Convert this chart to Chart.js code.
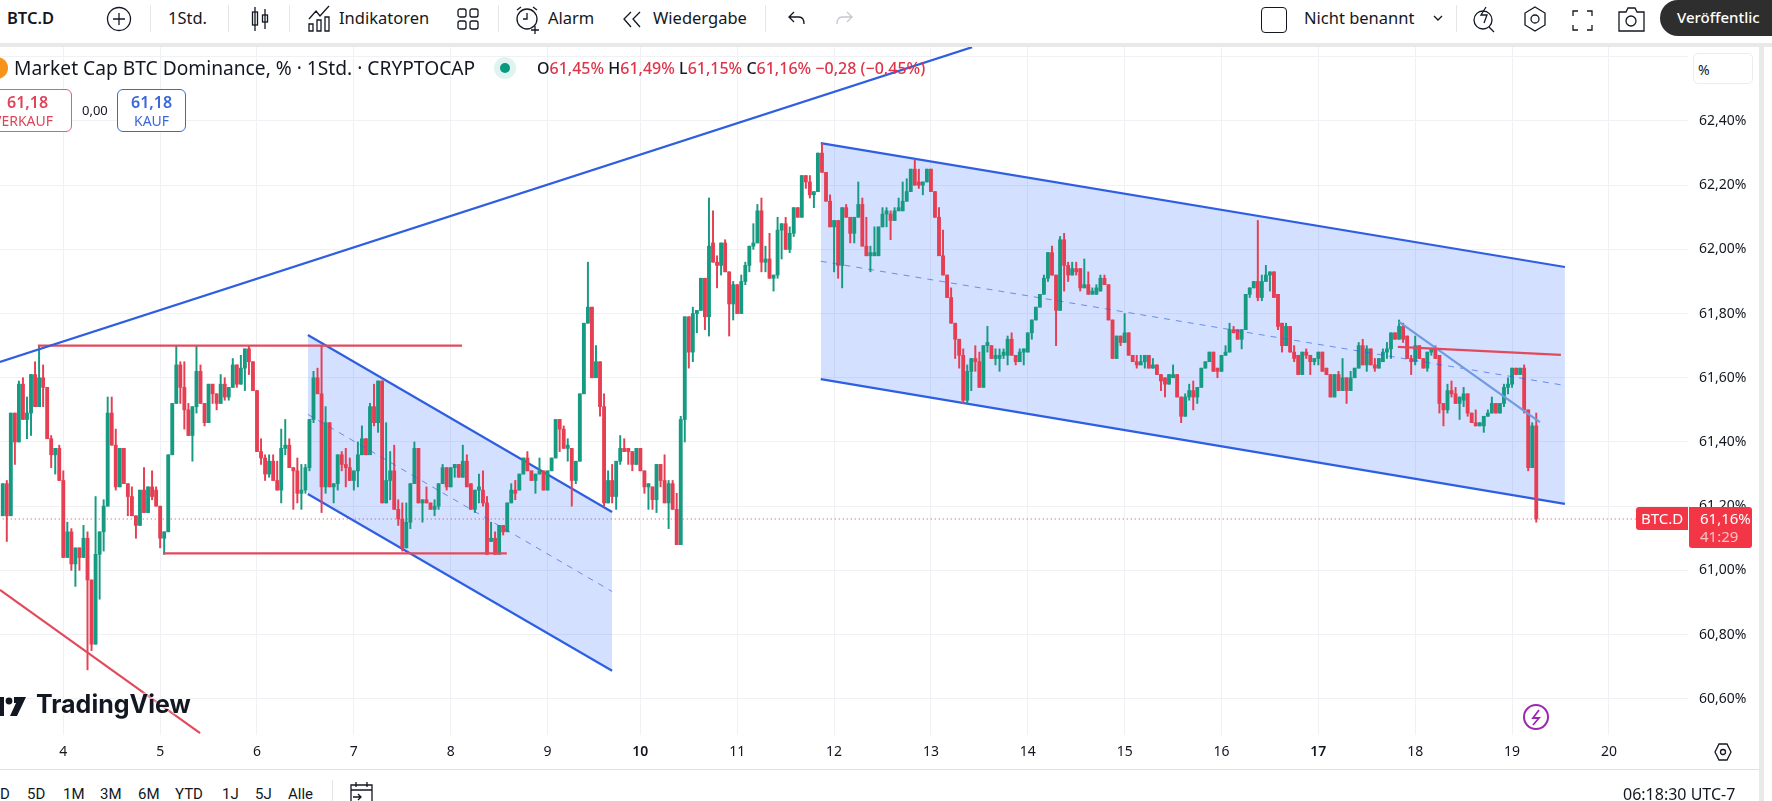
<!DOCTYPE html>
<html lang="de">
<head>
<meta charset="UTF-8">
<title>BTC.D</title>
<style>
    html, body { margin: 0; background: #fff; overflow: hidden; }
    body { font-family: "Noto Sans", sans-serif; color: #131722; width: 1772px; height: 801px; position: relative; }
    .t { position: absolute; white-space: nowrap; line-height: 1; }
    .tool { font-size: 16.5px; top: 10px; }
    .range { font-size: 15px; top: 787px; font-family: Roboto, sans-serif; }
    .sep { position: absolute; width: 1px; background: #e6e6e6; }
    svg.i { position: absolute; fill: none; stroke: #131722; stroke-width: 1.3; overflow: visible; }
    #chart { position: absolute; left: 0; top: 47px; }
    .r { color: #e0344a; }
    .box { position: absolute; box-sizing: border-box; top: 89px; height: 43px; border-radius: 6px; border: 1px solid; background: #fff; }
</style>
</head>
<body>

<!-- top toolbar -->
<span class="t tool" style="left:7px;font-weight:600">BTC.D</span>
<svg class="i" style="left:107px;top:7px" width="25" height="25"><circle cx="12" cy="12" r="11.5"/><path d="M12 6v12M6 12h12"/></svg>
<div class="sep" style="left:150px;top:5px;height:27px"></div>
<span class="t tool" style="left:168px">1Std.</span>
<div class="sep" style="left:228px;top:5px;height:27px"></div>
<svg class="i" style="left:250px;top:7px" width="20" height="24"><path d="M5 0v24M15 2v20"/><rect x="2.5" y="5" width="5" height="13"/><rect x="12.5" y="8" width="5" height="7"/></svg>
<div class="sep" style="left:289px;top:5px;height:27px"></div>
<svg class="i" style="left:308px;top:6px" width="24" height="26"><path d="M1 13L8 5l4 5 9-10M1 25v-7h4v7zM9 25V14h4v11zM17 25V11h4v14z"/></svg>
<span class="t tool" style="left:339px">Indikatoren</span>
<svg class="i" style="left:457px;top:8px" width="22" height="22"><rect x="1" y="1" width="8" height="8" rx="2"/><rect x="13" y="1" width="8" height="8" rx="2"/><rect x="1" y="13" width="8" height="8" rx="2"/><rect x="13" y="13" width="8" height="8" rx="2"/></svg>
<div class="sep" style="left:498px;top:5px;height:27px"></div>
<svg class="i" style="left:515px;top:6px" width="26" height="26"><circle cx="12" cy="13" r="10"/><path d="M12 7v6H8M2 4l4-3M22 4l-4-3M20 20v8M16 24h8"/></svg>
<span class="t tool" style="left:548px">Alarm</span>
<svg class="i" style="left:622px;top:11px" width="22" height="17"><path d="M9 1L2 8l7 8M18 1l-7 7 7 8"/></svg>
<span class="t tool" style="left:653px">Wiedergabe</span>
<div class="sep" style="left:765px;top:5px;height:27px"></div>
<svg class="i" style="left:788px;top:11px" width="18" height="15"><path d="M6 1L1 6l5 5M1 6h10c3 0 5 2 5 7"/></svg>
<svg class="i" style="left:835px;top:11px;stroke:#c4c8d0" width="18" height="15"><path d="M12 1l5 5-5 5M17 6H7c-3 0-5 2-5 7"/></svg>
<div class="t" style="left:1261px;top:7px;width:24px;height:24px;border:1.3px solid #131722;border-radius:4px"></div>
<span class="t tool" style="left:1304px">Nicht benannt</span>
<svg class="i" style="left:1433px;top:15px" width="10" height="7"><path d="M1 1l4 4 4-4"/></svg>
<div class="sep" style="left:1456px;top:5px;height:27px"></div>
<svg class="i" style="left:1473px;top:6px" width="24" height="26"><circle cx="10" cy="14" r="9"/><path d="M16 21l5 5M13 1l-5 8h6l-3 8"/></svg>
<svg class="i" style="left:1522px;top:6px" width="26" height="26"><path d="M13 1l10 6v12l-10 6-10-6V7z"/><circle cx="13" cy="13" r="4"/></svg>
<svg class="i" style="left:1572px;top:10px" width="22" height="22"><path d="M1 6V1h5M15 1h5v5M20 15v5h-5M6 20H1v-5"/></svg>
<svg class="i" style="left:1618px;top:7px" width="27" height="25"><path d="M1 5h7l2-4h7l2 4h7v19H1z"/><circle cx="13" cy="14" r="5"/></svg>
<div class="t" style="left:1660px;top:0;width:112px;height:36px;background:#2e2e2e;border-radius:18px 0 0 18px"></div>
<span class="t" style="left:1677px;top:10px;font-size:15px;color:#fff;font-weight:500">Veröffentlic</span>
<div style="position:absolute;left:0;top:43px;width:1772px;height:4px;background:#e9e9e9"></div>
<div style="position:absolute;left:1759px;top:43px;width:5px;height:758px;background:#e9e9e9"></div>

<canvas id="chart" width="1759" height="722"></canvas>

<!-- legend over the chart -->
<div style="position:absolute;left:-14px;top:57px;width:22px;height:22px;border-radius:50%;background:#f7931a"></div>
<span class="t" style="left:14px;top:58px;font-size:19.2px">Market Cap BTC Dominance, % · 1Std. · CRYPTOCAP</span>
<div style="position:absolute;left:494px;top:57px;width:22px;height:22px;border-radius:50%;background:#dff3ef"></div>
<div style="position:absolute;left:500px;top:63px;width:10px;height:10px;border-radius:50%;background:#089981"></div>
<span class="t" style="left:537px;top:60px;font-size:16px;font-weight:500">O<span class="r">61,45%</span> H<span class="r">61,49%</span> L<span class="r">61,15%</span> C<span class="r">61,16%</span> <span class="r">−0,28 (−0,45%)</span></span>
<div class="box" style="left:-10px;width:82px;border-color:#e0606f"></div>
<span class="t r" style="left:7px;top:94px;font-size:16px;font-weight:600;color:#e04458">61,18</span>
<span class="t" style="left:-7px;top:114px;font-size:14px;color:#e04458">VERKAUF</span>
<span class="t" style="left:82px;top:104px;font-size:13px">0,00</span>
<div class="box" style="left:117px;width:69px;border-color:#3b68d8"></div>
<span class="t" style="left:131px;top:94px;font-size:16px;font-weight:600;color:#3b68d8">61,18</span>
<span class="t" style="left:134px;top:114px;font-size:14px;color:#3b68d8">KAUF</span>

<!-- price scale overlays -->
<div style="position:absolute;box-sizing:border-box;left:1693px;top:53px;width:60px;height:31px;border:1px solid #ececec;border-radius:5px;background:#fff"></div>
<span class="t" style="left:1698px;top:63px;font-size:14px">%</span>
<div style="position:absolute;left:1636px;top:507px;width:52px;height:23px;background:#f23645;border-radius:3px 0 0 3px"></div>
<span class="t" style="left:1641px;top:511px;font-size:15px;color:#fff">BTC.D</span>
<div style="position:absolute;left:1689px;top:507px;width:63px;height:41px;background:#f23645;border-radius:0 3px 3px 3px"></div>
<span class="t" style="left:1700px;top:511px;font-size:15px;color:#fff">61,16%</span>
<span class="t" style="left:1700px;top:529px;font-size:15px;color:#fbc0c6">41:29</span>
<svg class="i" style="left:1523px;top:704px;stroke:#9c27b0;stroke-width:2" width="26" height="26"><circle cx="13" cy="13" r="12"/><path d="M16 6l-6 8h6l-6 7" stroke-width="1.8"/></svg>
<svg class="i" style="left:1714px;top:742px" width="18" height="20"><path d="M5 2h8l4 8-4 8H5L1 10z"/><circle cx="9" cy="10" r="2.5"/></svg>

<!-- watermark -->
<svg style="position:absolute;left:0;top:697px" width="27" height="20"><rect x="0" y="0" width="4" height="19" fill="#131722"/><circle cx="9" cy="4" r="3.4" fill="#131722"/><path d="M14 0h12l-9 19h-7l6-13h-2z" fill="#131722"/></svg>
<span class="t" style="left:36px;top:692px;font-family:Inter,sans-serif;font-size:25px;font-weight:700;text-shadow:0 0 3px #fff,0 0 3px #fff">TradingView</span>

<!-- bottom bar -->
<div style="position:absolute;left:0;top:769px;width:1759px;height:1px;background:#e0e0e0"></div>
<span class="t range" style="left:0">D</span>
<span class="t range" style="left:27px">5D</span>
<span class="t range" style="left:63px">1M</span>
<span class="t range" style="left:100px">3M</span>
<span class="t range" style="left:138px">6M</span>
<span class="t range" style="left:175px">YTD</span>
<span class="t range" style="left:222px">1J</span>
<span class="t range" style="left:255px">5J</span>
<span class="t range" style="left:288px">Alle</span>
<div class="sep" style="left:332px;top:780px;height:21px"></div>
<svg class="i" style="left:350px;top:782px" width="24" height="22"><path d="M1 3h21v18H1zM1 8h21M6 0v5M17 0v5M3 15h8m-3-3l3 3-3 3"/></svg>
<span class="t" style="left:1623px;top:786px;font-size:16px">06:18:30 UTC-7</span>

<script src="https://cdn.jsdelivr.net/npm/chart.js"></script>
<script>
    // hourly candles, first one is day 3 09:00
    const opens = [
        61.17,61.27,61.17,61.49,61.40,61.58,61.47,61.49,61.61,61.51,
        61.60,61.57,61.41,61.36,61.38,61.28,61.04,61.12,61.02,61.07,
        61.04,61.10,60.97,60.77,61.05,61.12,61.20,61.49,61.39,61.26,
        61.38,61.27,61.23,61.17,61.14,61.25,61.18,61.26,61.25,61.20,
        61.10,61.12,61.36,61.52,61.64,61.57,61.50,61.42,61.51,61.62,
        61.52,61.46,61.58,61.55,61.52,61.58,61.54,61.57,61.64,61.58,
        61.63,61.69,61.65,61.56,61.37,61.35,61.30,61.34,61.28,61.25,
        61.38,61.39,61.32,61.31,61.24,61.25,61.32,61.47,61.60,61.55,
        61.26,61.46,61.26,61.27,61.36,61.33,61.32,61.28,61.31,61.36,
        61.41,61.36,61.51,61.46,61.59,61.21,61.28,61.31,61.19,61.16,
        61.07,61.15,61.27,61.38,61.21,61.22,61.21,61.19,61.20,61.27,
        61.32,61.26,61.32,61.33,61.29,61.34,61.27,61.19,61.25,61.25,
        61.21,61.09,61.10,61.05,61.14,61.12,61.21,61.25,61.25,61.30,
        61.35,61.31,61.28,61.30,61.31,61.25,61.31,61.35,61.47,61.44,
        61.38,61.38,61.28,61.34,61.55,61.77,61.82,61.60,61.65,61.51,
        61.21,61.28,61.23,61.34,61.38,61.38,61.37,61.33,61.38,61.31,
        61.26,61.26,61.22,61.33,61.28,61.21,61.27,61.19,61.08,61.47,
        61.79,61.68,61.80,61.81,61.91,61.79,62.02,61.96,61.95,62.02,
        61.93,61.83,61.89,61.80,61.90,61.95,62.01,62.02,62.12,61.96,
        61.97,61.91,61.92,62.06,62.08,62.00,62.05,62.13,62.10,62.23,
        62.21,62.17,62.18,62.30,62.24,62.15,62.07,62.09,61.95,62.13,
        62.10,62.05,62.10,62.14,62.01,61.98,61.98,61.98,62.07,62.11,
        62.11,62.09,62.12,62.12,62.15,62.18,62.25,62.21,62.20,62.21,
        62.25,62.18,62.10,61.98,61.92,61.85,61.77,61.72,61.67,61.53,
        61.62,61.66,61.65,61.57,61.70,61.70,61.66,61.66,61.67,61.67,
        61.72,61.67,61.65,61.68,61.68,61.74,61.78,61.82,61.86,61.91,
        61.99,61.92,61.81,62.03,61.95,61.92,61.94,61.94,61.88,61.89,
        61.86,61.86,61.87,61.91,61.89,61.78,61.66,61.73,61.71,61.74,
        61.67,61.65,61.64,61.65,61.67,61.63,61.64,61.61,61.60,61.58,
        61.60,61.61,61.54,61.48,61.54,61.56,61.54,61.57,61.63,61.65,
        61.68,61.63,61.62,61.67,61.68,61.75,61.75,61.72,61.75,61.86,
        61.88,61.90,61.85,61.90,61.92,61.93,61.86,61.77,61.70,61.76,
        61.68,61.67,61.61,61.68,61.67,61.65,61.66,61.68,61.63,61.61,
        61.54,61.61,61.56,61.60,61.56,61.60,61.63,61.70,61.64,61.69,
        61.64,61.63,61.65,61.68,61.69,61.74,61.72,61.76,61.73,61.66,
        61.65,61.70,61.66,61.63,61.68,61.69,61.67,61.52,61.50,61.56,
        61.55,61.52,61.53,61.55,61.49,61.46,61.45,61.45,61.48,61.49,
        61.52,61.49,61.52,61.57,61.58,61.63,61.61,61.63,61.50,61.32,61.45
    ];
    const closes = [
        61.27,61.17,61.49,61.40,61.58,61.47,61.49,61.61,61.51,61.60,
        61.57,61.41,61.36,61.38,61.28,61.04,61.12,61.02,61.07,61.04,
        61.10,60.97,60.77,61.05,61.12,61.20,61.49,61.39,61.26,61.38,
        61.27,61.23,61.17,61.14,61.25,61.18,61.26,61.23,61.20,61.10,
        61.12,61.36,61.52,61.64,61.57,61.50,61.42,61.51,61.62,61.52,
        61.46,61.58,61.55,61.52,61.58,61.54,61.57,61.64,61.58,61.63,
        61.69,61.65,61.56,61.37,61.35,61.30,61.34,61.28,61.25,61.38,
        61.39,61.32,61.31,61.24,61.25,61.32,61.47,61.60,61.55,61.26,
        61.46,61.26,61.27,61.36,61.33,61.32,61.28,61.31,61.36,61.41,
        61.36,61.51,61.46,61.59,61.21,61.28,61.31,61.19,61.16,61.07,
        61.15,61.27,61.38,61.21,61.22,61.21,61.19,61.20,61.27,61.32,
        61.26,61.32,61.33,61.29,61.34,61.26,61.19,61.25,61.26,61.21,
        61.05,61.10,61.05,61.14,61.12,61.21,61.25,61.24,61.30,61.35,
        61.31,61.28,61.30,61.31,61.25,61.31,61.35,61.47,61.44,61.38,
        61.39,61.28,61.34,61.55,61.77,61.82,61.60,61.65,61.51,61.21,
        61.28,61.23,61.34,61.38,61.37,61.37,61.33,61.38,61.31,61.26,
        61.27,61.22,61.33,61.28,61.21,61.27,61.19,61.08,61.47,61.79,
        61.68,61.80,61.81,61.91,61.79,62.01,61.96,61.95,62.02,61.93,
        61.83,61.89,61.80,61.90,61.95,62.01,62.02,62.12,61.96,61.97,
        61.91,61.92,62.06,62.08,62.00,62.05,62.13,62.10,62.23,62.21,
        62.17,62.18,62.30,62.24,62.15,62.07,62.09,61.95,62.13,62.10,
        62.05,62.10,62.14,62.01,61.98,61.99,61.99,62.07,62.11,62.12,
        62.09,62.12,62.13,62.15,62.18,62.25,62.20,62.20,62.21,62.25,
        62.18,62.10,61.98,61.92,61.85,61.77,61.72,61.67,61.53,61.62,
        61.66,61.65,61.57,61.70,61.71,61.66,61.67,61.67,61.68,61.72,
        61.67,61.65,61.68,61.69,61.74,61.78,61.82,61.86,61.91,61.99,
        61.92,61.81,62.03,61.95,61.92,61.94,61.93,61.88,61.89,61.86,
        61.87,61.88,61.91,61.89,61.78,61.66,61.73,61.71,61.74,61.67,
        61.65,61.64,61.65,61.67,61.63,61.64,61.61,61.59,61.58,61.61,
        61.61,61.54,61.48,61.54,61.56,61.54,61.57,61.63,61.65,61.68,
        61.62,61.62,61.67,61.68,61.75,61.74,61.72,61.75,61.86,61.88,
        61.90,61.85,61.90,61.92,61.93,61.85,61.76,61.70,61.76,61.68,
        61.66,61.61,61.68,61.67,61.65,61.66,61.68,61.62,61.61,61.54,
        61.61,61.56,61.60,61.56,61.60,61.63,61.70,61.64,61.69,61.64,
        61.63,61.66,61.68,61.69,61.74,61.72,61.76,61.72,61.66,61.65,
        61.70,61.66,61.63,61.68,61.69,61.66,61.52,61.50,61.56,61.55,
        61.52,61.54,61.55,61.49,61.46,61.45,61.46,61.48,61.49,61.52,
        61.49,61.52,61.57,61.58,61.63,61.61,61.63,61.50,61.32,61.45,61.16
    ];
    const highs = [
        61.27,61.28,61.49,61.49,61.59,61.60,61.54,61.61,61.65,61.70,
        61.64,61.57,61.42,61.38,61.39,61.31,61.15,61.13,61.07,61.07,
        61.14,61.12,60.97,61.23,61.12,61.22,61.54,61.54,61.44,61.38,
        61.38,61.27,61.26,61.17,61.25,61.32,61.26,61.31,61.26,61.20,
        61.12,61.36,61.52,61.70,61.65,61.65,61.52,61.51,61.70,61.64,
        61.52,61.58,61.58,61.55,61.61,61.60,61.57,61.66,61.64,61.67,
        61.69,61.70,61.65,61.56,61.41,61.36,61.36,61.36,61.34,61.44,
        61.47,61.41,61.32,61.35,61.33,61.33,61.47,61.62,61.63,61.70,
        61.51,61.46,61.27,61.36,61.37,61.38,61.35,61.31,61.40,61.45,
        61.41,61.52,61.58,61.59,61.59,61.46,61.37,61.39,61.22,61.21,
        61.21,61.27,61.40,61.38,61.22,61.26,61.21,61.22,61.27,61.33,
        61.32,61.32,61.33,61.33,61.39,61.36,61.27,61.25,61.30,61.31,
        61.23,61.15,61.12,61.14,61.14,61.21,61.27,61.28,61.30,61.35,
        61.37,61.31,61.30,61.35,61.31,61.31,61.35,61.47,61.47,61.45,
        61.41,61.38,61.34,61.55,61.77,61.96,61.82,61.70,61.65,61.55,
        61.31,61.33,61.34,61.42,61.41,61.38,61.37,61.38,61.38,61.31,
        61.27,61.26,61.33,61.33,61.36,61.28,61.28,61.24,61.48,61.79,
        61.79,61.82,61.81,61.91,61.91,62.16,62.12,61.98,62.02,62.03,
        61.93,61.90,61.89,61.92,61.96,62.01,62.08,62.14,62.16,62.01,
        62.05,61.92,62.10,62.08,62.10,62.07,62.13,62.13,62.23,62.23,
        62.23,62.18,62.30,62.33,62.24,62.17,62.09,62.09,62.13,62.14,
        62.10,62.10,62.21,62.16,62.10,62.01,62.07,62.07,62.13,62.13,
        62.12,62.13,62.16,62.21,62.22,62.25,62.28,62.25,62.21,62.25,
        62.25,62.18,62.13,62.06,61.92,61.88,61.77,61.72,61.69,61.64,
        61.66,61.70,61.68,61.70,61.76,61.70,61.69,61.69,61.69,61.73,
        61.74,61.67,61.69,61.69,61.74,61.78,61.82,61.86,61.92,61.99,
        62.01,61.92,62.04,62.05,61.96,61.96,61.96,61.94,61.97,61.93,
        61.88,61.89,61.92,61.92,61.89,61.78,61.73,61.73,61.80,61.74,
        61.67,61.67,61.67,61.67,61.67,61.66,61.64,61.61,61.60,61.61,
        61.64,61.61,61.54,61.55,61.58,61.59,61.57,61.63,61.65,61.68,
        61.68,61.63,61.67,61.70,61.77,61.76,61.75,61.75,61.86,61.88,
        61.90,62.09,61.92,61.95,61.93,61.93,61.86,61.77,61.77,61.76,
        61.70,61.67,61.68,61.69,61.67,61.66,61.68,61.68,61.63,61.61,
        61.61,61.62,61.66,61.60,61.62,61.63,61.71,61.72,61.70,61.69,
        61.66,61.66,61.69,61.71,61.74,61.74,61.78,61.77,61.73,61.67,
        61.73,61.70,61.66,61.68,61.69,61.70,61.67,61.52,61.58,61.59,
        61.57,61.54,61.57,61.55,61.49,61.50,61.46,61.48,61.50,61.54,
        61.52,61.52,61.58,61.60,61.63,61.63,61.63,61.64,61.50,61.46,61.49
    ];
    const lows = [
        61.17,61.09,61.17,61.33,61.40,61.47,61.41,61.42,61.51,61.51,
        61.51,61.41,61.32,61.30,61.28,61.04,61.04,61.00,60.95,61.00,
        61.04,60.69,60.75,60.77,60.91,61.06,61.20,61.39,61.25,61.26,
        61.27,61.17,61.17,61.10,61.14,61.18,61.18,61.22,61.20,61.07,
        61.05,61.12,61.36,61.52,61.52,61.44,61.42,61.34,61.49,61.52,
        61.45,61.46,61.52,61.50,61.52,61.53,61.53,61.57,61.57,61.58,
        61.56,61.61,61.56,61.37,61.33,61.28,61.29,61.28,61.25,61.21,
        61.36,61.32,61.19,61.21,61.19,61.24,61.31,61.46,61.55,61.18,
        61.24,61.26,61.21,61.25,61.31,61.26,61.28,61.25,61.26,61.36,
        61.36,61.36,61.45,61.43,61.21,61.21,61.22,61.19,61.14,61.06,
        61.07,61.13,61.27,61.21,61.15,61.21,61.19,61.17,61.19,61.27,
        61.25,61.26,61.29,61.29,61.29,61.26,61.19,61.18,61.21,61.20,
        61.05,61.09,61.05,61.05,61.11,61.12,61.21,61.22,61.25,61.30,
        61.31,61.28,61.24,61.30,61.25,61.25,61.31,61.35,61.37,61.38,
        61.34,61.20,61.27,61.34,61.55,61.77,61.60,61.60,61.48,61.20,
        61.21,61.21,61.19,61.33,61.37,61.33,61.31,61.33,61.31,61.24,
        61.19,61.19,61.18,61.26,61.21,61.13,61.19,61.08,61.08,61.40,
        61.63,61.65,61.74,61.81,61.75,61.73,61.96,61.88,61.92,61.93,
        61.73,61.78,61.80,61.80,61.89,61.93,62.00,62.02,61.93,61.93,
        61.91,61.87,61.91,61.97,62.00,61.99,62.04,62.10,62.10,62.19,
        62.16,62.13,62.18,62.24,62.15,62.07,61.93,61.91,61.88,62.10,
        62.02,62.02,62.10,62.01,61.98,61.93,61.98,61.98,62.07,62.07,
        62.03,62.09,62.12,62.12,62.15,62.18,62.20,62.19,62.17,62.21,
        62.18,62.10,61.98,61.92,61.85,61.77,61.66,61.63,61.52,61.52,
        61.56,61.62,61.57,61.57,61.68,61.66,61.64,61.62,61.66,61.64,
        61.67,61.64,61.65,61.64,61.68,61.72,61.78,61.82,61.86,61.90,
        61.92,61.70,61.81,61.87,61.90,61.92,61.92,61.87,61.88,61.86,
        61.86,61.86,61.87,61.89,61.78,61.66,61.66,61.70,61.71,61.67,
        61.65,61.63,61.64,61.63,61.63,61.63,61.61,61.56,61.54,61.58,
        61.60,61.54,61.46,61.48,61.53,61.50,61.52,61.57,61.63,61.65,
        61.62,61.60,61.62,61.67,61.68,61.74,61.72,61.69,61.75,61.85,
        61.88,61.84,61.84,61.90,61.87,61.85,61.75,61.68,61.70,61.68,
        61.65,61.61,61.61,61.66,61.61,61.64,61.64,61.62,61.61,61.54,
        61.54,61.56,61.56,61.52,61.56,61.60,61.63,61.64,61.62,61.64,
        61.62,61.63,61.65,61.66,61.66,61.72,61.72,61.71,61.66,61.61,
        61.64,61.66,61.63,61.62,61.67,61.66,61.49,61.45,61.49,61.54,
        61.52,61.47,61.51,61.48,61.46,61.45,61.45,61.43,61.48,61.49,
        61.49,61.49,61.51,61.55,61.57,61.61,61.61,61.49,61.31,61.32,61.15
    ];

    // day labels and the candle each day starts on (one hour is missing before the 10th)
    const dayLabels = ['4','5','6','7','8','9','10','11','12','13','14','15','16','17','18','19','20'];
    const dayStarts = [15,39,63,87,111,135,158,182,206,230,254,278,302,326,350,374,398];
    const boldDays = ['10','17'];
    const priceTicks = [60.6,60.8,61.0,61.2,61.4,61.6,61.8,62.0,62.2,62.4,62.6];
    const lastPrice = 61.16;

    // drawings, as candle index and price
    const trendBlue = [[-0.7,61.649],[240.2,62.63]];
    const resistance = [[8.7,61.70],[113.8,61.70]];
    const support = [[39.7,61.053],[124.9,61.053]];
    const trendRed = [[-0.7,60.939],[48.9,60.493]];
    const channelA = { upper: [[75.6,61.733],[151,61.182]], mid: [[75.6,61.486],[151,60.934]], lower: [[75.6,61.238],[151,60.687]] };
    const channelB = { upper: [[202.7,62.331],[387.1,61.945]], mid: [[202.7,61.963],[387.1,61.576]], lower: [[202.7,61.596],[387.1,61.207]] };
    const redShort = [[345.7,61.696],[386.1,61.671]];
    const blueShort = [[346,61.774],[380.9,61.462]];

    const UP = '#169a82';
    const DOWN = '#e63e52';
    const candleColors = opens.map((o, i) => closes[i] >= o ? UP : DOWN);

    function drawing(points, color, extra) {
        return Object.assign({
            type: 'line',
            data: points.map(p => ({ x: p[0], y: p[1] })),
            borderColor: color,
            borderWidth: 2.2,
            pointRadius: 0,
            tension: 0,
            fill: false,
            order: 1
        }, extra);
    }

    // drop the label padding so the plot fills the canvas edge to edge
    function noPadding(scale) {
        scale.paddingTop = 0;
        scale.paddingBottom = 0;
        scale.paddingLeft = 0;
        scale.paddingRight = 0;
    }

    const channelFill = 'rgba(41,98,255,0.2)';
    const channelLine = '#2f5fe0';
    // channel areas sit behind the candles, so they keep their colours
    const datasets = [
        { type: 'bar', data: opens.map((o, i) => ({ x: i, y: [lows[i], highs[i]] })), backgroundColor: candleColors, barThickness: 1.3, grouped: false, order: 6 },
        { type: 'bar', data: opens.map((o, i) => ({ x: i, y: [o, closes[i]] })), backgroundColor: candleColors, barThickness: 3.2, grouped: false, order: 5 },
        drawing(channelA.upper, channelLine, { fill: '+1', backgroundColor: channelFill, order: 7 }),
        drawing(channelA.lower, channelLine, { order: 7 }),
        drawing(channelA.mid, 'rgba(47,95,224,0.65)', { borderWidth: 1, borderDash: [6, 6], order: 2 }),
        drawing(channelB.upper, channelLine, { fill: '+1', backgroundColor: channelFill, order: 7 }),
        drawing(channelB.lower, channelLine, { order: 7 }),
        drawing(channelB.mid, 'rgba(47,95,224,0.65)', { borderWidth: 1, borderDash: [6, 6], order: 2 }),
        drawing(trendBlue, channelLine),
        drawing(resistance, '#e24a5c'),
        drawing(support, '#e24a5c'),
        drawing(trendRed, '#e24a5c'),
        drawing(redShort, '#e24a5c'),
        drawing(blueShort, '#6f9be0'),
        drawing([[-1, lastPrice], [418, lastPrice]], '#e0344a', { borderWidth: 1, borderDash: [1, 3], order: 3 })
    ];

    new Chart(document.getElementById('chart'), {
        type: 'bar',
        data: { datasets: datasets },
        options: {
            responsive: false,
            animation: false,
            layout: { padding: 0 },
            plugins: { legend: { display: false }, tooltip: { enabled: false } },
            scales: {
                x: {
                    type: 'linear',
                    min: -0.684,
                    max: 417.6,
                    offset: false,
                    grid: { offset: false, color: '#eff1f4', drawTicks: false },
                    border: { display: false },
                    afterBuildTicks: scale => { scale.ticks = dayStarts.map(v => ({ value: v })); },
                    afterFit: scale => { scale.height = 34; noPadding(scale); },
                    ticks: {
                        autoSkip: false,
                        maxRotation: 0,
                        padding: 9,
                        color: '#131722',
                        font: ctx => ({ family: '"Noto Sans"', size: 14, weight: ctx.tick && boldDays.includes(dayLabels[dayStarts.indexOf(ctx.tick.value)]) ? '600' : '400' }),
                        callback: value => dayLabels[dayStarts.indexOf(value)]
                    }
                },
                y: {
                    position: 'right',
                    min: 60.487,
                    max: 62.6305,
                    grid: { color: '#eff1f4', drawTicks: false },
                    border: { display: false },
                    afterBuildTicks: scale => { scale.ticks = priceTicks.map(v => ({ value: v })); },
                    afterFit: scale => { scale.width = 71; noPadding(scale); },
                    ticks: {
                        padding: 11,
                        color: '#131722',
                        font: { family: '"Noto Sans"', size: 14 },
                        callback: value => value > 62.5 ? '' : value.toFixed(2).replace('.', ',') + '%'
                    }
                }
            }
        }
    });
</script>
</body>
</html>
